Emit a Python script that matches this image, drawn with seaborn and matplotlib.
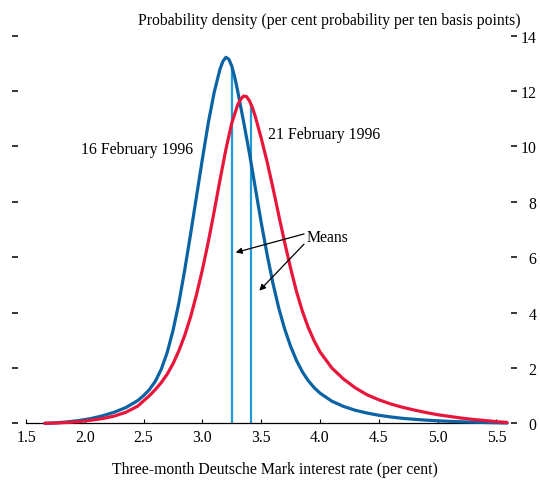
import matplotlib
matplotlib.use("Agg")
import matplotlib.pyplot as plt
import seaborn as sns
import pandas as pd

# Implied probability density curves for the three-month DM rate
feb16_rate = [1.66, 1.75, 1.85, 1.95, 2.05, 2.15, 2.25, 2.35, 2.45, 2.50, 2.55,
              2.60, 2.65, 2.70, 2.75, 2.80, 2.85, 2.90, 2.95, 3.00, 3.05, 3.10,
              3.15, 3.175, 3.20, 3.225, 3.25, 3.275, 3.30, 3.35, 3.40, 3.45,
              3.50, 3.55, 3.60, 3.65, 3.70, 3.75, 3.80, 3.85, 3.90, 3.95, 4.00,
              4.10, 4.20, 4.30, 4.40, 4.50, 4.60, 4.70, 4.80, 4.90, 5.00, 5.10,
              5.20, 5.30, 5.40, 5.50, 5.59]
feb16_density = [0.00, 0.015, 0.05, 0.10, 0.17, 0.27, 0.40, 0.57, 0.82, 1.00, 1.22,
                 1.52, 1.95, 2.55, 3.35, 4.35, 5.55, 6.85, 8.20, 9.55, 10.85, 11.95,
                 12.80, 13.08, 13.22, 13.15, 12.90, 12.50, 12.00, 10.90, 9.75, 8.50,
                 7.25, 6.10, 5.05, 4.15, 3.40, 2.78, 2.27, 1.86, 1.54, 1.29, 1.09,
                 0.80, 0.61, 0.47, 0.37, 0.29, 0.23, 0.18, 0.145, 0.115, 0.09, 0.07,
                 0.055, 0.04, 0.03, 0.02, 0.01]

feb21_rate = [1.66, 1.75, 1.85, 1.95, 2.05, 2.15, 2.25, 2.35, 2.45, 2.55, 2.60,
              2.65, 2.70, 2.75, 2.80, 2.85, 2.90, 2.95, 3.00, 3.05, 3.10, 3.15,
              3.20, 3.25, 3.30, 3.325, 3.35, 3.375, 3.40, 3.425, 3.45, 3.50,
              3.55, 3.60, 3.65, 3.70, 3.75, 3.80, 3.85, 3.90, 3.95, 4.00, 4.10,
              4.20, 4.30, 4.40, 4.50, 4.60, 4.70, 4.80, 4.90, 5.00, 5.10, 5.20,
              5.30, 5.40, 5.50, 5.59]
feb21_density = [0.00, 0.01, 0.03, 0.06, 0.11, 0.17, 0.26, 0.40, 0.62, 1.00, 1.22,
                 1.47, 1.77, 2.15, 2.62, 3.18, 3.85, 4.65, 5.55, 6.55, 7.65, 8.80,
                 9.90, 10.85, 11.50, 11.70, 11.82, 11.80, 11.65, 11.40, 11.08, 10.30,
                 9.45, 8.50, 7.50, 6.52, 5.60, 4.76, 4.05, 3.46, 2.98, 2.58, 2.00,
                 1.60, 1.28, 1.03, 0.85, 0.70, 0.58, 0.48, 0.39, 0.31, 0.25, 0.19,
                 0.14, 0.10, 0.06, 0.03]

mean_rate = [3.254, 3.413]
mean_height = [12.85, 11.53]

x_ticks = [1.5, 2.0, 2.5, 3.0, 3.5, 4.0, 4.5, 5.0, 5.5]
y_ticks = [0, 2, 4, 6, 8, 10, 12, 14]

df = pd.concat([
    pd.DataFrame({"rate": feb16_rate, "density": feb16_density, "date": "16 February 1996"}),
    pd.DataFrame({"rate": feb21_rate, "density": feb21_density, "date": "21 February 1996"}),
])

sns.set_theme(style="white")
plt.rcParams["font.family"] = ["Liberation Serif", "DejaVu Serif"]
plt.rcParams["text.color"] = "black"
plt.rcParams["xtick.color"] = "black"
plt.rcParams["ytick.color"] = "black"

FS = 11.3

fig = plt.figure(figsize=(5.4, 4.81), dpi=100)
ax = fig.add_axes([18 / 540, 1 - 424.3 / 481, 493 / 540, (424.3 - 36.7) / 481])

blue = "#0b63a3"
red = "#e8163a"
mean_col = "#1f9bd7"

ax.vlines(mean_rate, 0, mean_height, colors=mean_col, lw=1.6, zorder=1)

sns.lineplot(data=df, x="rate", y="density", hue="date",
             palette={"16 February 1996": blue, "21 February 1996": red},
             estimator=None, sort=False, lw=2.3, legend=False, ax=ax, zorder=3)
for ln in ax.lines:
    ln.set_clip_on(False)
    ln.set_solid_capstyle("round")
    ln.set_solid_joinstyle("round")

ax.set_xlim(1.432, 5.624)
ax.set_ylim(0, 14)

for side in ["left", "right", "top"]:
    ax.spines[side].set_visible(False)
ax.spines["bottom"].set_bounds(1.5, 5.59)
ax.spines["bottom"].set_color("black")
ax.spines["bottom"].set_linewidth(0.9)

ax.set_xticks(x_ticks)
ax.set_xticklabels([f"{v:.1f}" for v in x_ticks])
ax.tick_params(axis="x", direction="in", length=3, width=0.8, color="black",
               labelcolor="black", labelsize=FS, pad=4, bottom=True)

ax.set_yticks(y_ticks)
ax.set_yticklabels([str(v) for v in y_ticks])
ax.tick_params(axis="y", direction="out", length=4.5, width=1.1, color="black",
               labelcolor="black", left=True, right=True, labelleft=False,
               labelright=True, labelsize=FS, pad=14)
for lab in ax.get_yticklabels():
    lab.set_horizontalalignment("right")

ax.set_xlabel("")
ax.set_ylabel("")
ax.grid(False)

ax.text(2.92, 9.9, "16 February 1996", ha="right", va="center", fontsize=FS)
ax.text(3.56, 10.45, "21 February 1996", ha="left", va="center", fontsize=FS)
ax.text(3.89, 6.72, "Means", ha="left", va="center", fontsize=FS)
arrow = dict(arrowstyle="-|>", color="black", lw=0.9, mutation_scale=9,
             shrinkA=0, shrinkB=0)
ax.annotate("", xy=(3.283, 6.17), xytext=(3.864, 6.84), arrowprops=arrow)
ax.annotate("", xy=(3.484, 4.79), xytext=(3.864, 6.47), arrowprops=arrow)

fig.text(521 / 540, 1 - 21 / 481,
         "Probability density (per cent probability per ten basis points)",
         ha="right", va="center", fontsize=FS)
fig.text(275 / 540, 1 - 470 / 481,
         "Three-month Deutsche Mark interest rate (per cent)",
         ha="center", va="center", fontsize=FS)

fig.savefig("out.png", dpi=100)
